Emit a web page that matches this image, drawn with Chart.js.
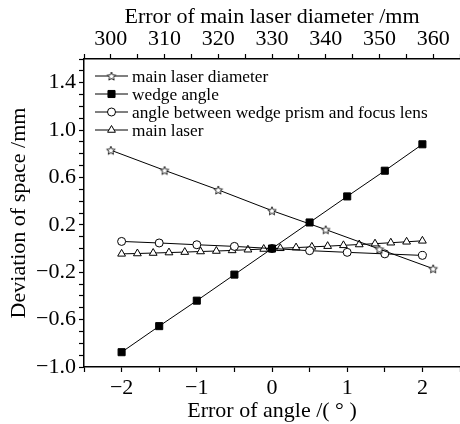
<!DOCTYPE html>
<html lang="en">
<head>
<meta charset="UTF-8" />
<title>Deviation of space</title>
<script src="https://cdn.jsdelivr.net/npm/chart.js"></script>
<style>
  html, body { margin: 0; padding: 0; background: #fff; }
</style>
</head>
<body>
<canvas id="chart" width="460" height="424"></canvas>
<script>
  // main laser diameter, plotted on the top axis (mm)
  const diameterX = [300, 310, 320, 330, 340, 350, 360];
  const diameterY = [0.83, 0.66, 0.495, 0.32, 0.16, -0.005, -0.17];
  // error of angle, bottom axis (degrees)
  const angleX = [-2, -1.5, -1, -0.5, 0, 0.5, 1, 1.5, 2];
  const wedgeY = [-0.875, -0.655, -0.44, -0.22, 0, 0.22, 0.44, 0.657, 0.88];
  const prismLensY = [0.06, 0.047, 0.032, 0.018, 0, -0.018, -0.032, -0.045, -0.058];
  const laserX = [-2, -1.79, -1.58, -1.37, -1.16, -0.95, -0.74, -0.53, -0.32, -0.11,
                  0.11, 0.32, 0.53, 0.74, 0.95, 1.16, 1.37, 1.58, 1.79, 2];
  const laserY = [-0.045, -0.042, -0.038, -0.034, -0.03, -0.025, -0.021, -0.016, -0.01, -0.004,
                  0.002, 0.008, 0.014, 0.02, 0.027, 0.034, 0.041, 0.049, 0.057, 0.065];
  const seriesNames = ['main laser diameter', 'wedge angle',
                       'angle between wedge prism and focus lens', 'main laser'];

  const serif = 'Liberation Serif';
  const minus = s => String(s).replace('-', '\u2212');

  // open five-point star marker
  function makeStar(r) {
    const c = document.createElement('canvas');
    const s = Math.ceil(r * 2 + 3);
    c.width = c.height = s;
    const g = c.getContext('2d');
    g.translate(s / 2, s / 2 + 0.5);
    g.beginPath();
    for (let i = 0; i < 10; i++) {
      const rad = i % 2 ? r * 0.45 : r;
      const a = -Math.PI / 2 + i * Math.PI / 5;
      g.lineTo(rad * Math.cos(a), rad * Math.sin(a));
    }
    g.closePath();
    g.fillStyle = '#fff';
    g.fill();
    g.strokeStyle = '#222';
    g.lineWidth = 1;
    g.stroke();
    return c;
  }
  const star = makeStar(4.5);

  const pts = (xs, ys) => xs.map((x, i) => ({ x, y: ys[i] }));
  const marker = [
    { pointStyle: star, radius: 5, bg: '#fff' },
    { pointStyle: 'rect', radius: 5, bg: '#000' },
    { pointStyle: 'circle', radius: 4, bg: '#fff' },
    { pointStyle: 'triangle', radius: 4.5, bg: '#fff' }
  ];

  function ds(i, data, axis) {
    return {
      label: seriesNames[i], data, xAxisID: axis,
      showLine: true, borderColor: '#000', borderWidth: 1, tension: 0,
      pointStyle: marker[i].pointStyle, pointRadius: marker[i].radius,
      pointBackgroundColor: marker[i].bg, pointBorderColor: '#000', pointBorderWidth: 1
    };
  }

  // legend drawn inside the plot, line-marker-line like the original
  const insideLegend = {
    id: 'insideLegend',
    afterDraw(chart) {
      const ctx = chart.ctx;
      const rows = [76, 94, 112, 130];
      ctx.save();
      seriesNames.forEach((name, i) => {
        const y = rows[i];
        ctx.strokeStyle = '#000';
        ctx.lineWidth = 1;
        ctx.beginPath();
        ctx.moveTo(95, y);
        ctx.lineTo(128, y);
        ctx.stroke();
        ctx.fillStyle = marker[i].bg;
        Chart.helpers.drawPoint(ctx, {
          pointStyle: marker[i].pointStyle, radius: marker[i].radius,
          rotation: 0, borderWidth: 1
        }, 111.5, y);
        ctx.fillStyle = '#000';
        ctx.font = '17.3px "' + serif + '"';
        ctx.textBaseline = 'middle';
        ctx.fillText(name, 132, y + 1);
      });
      ctx.restore();
    }
  };

  const axisGrid = { drawOnChartArea: false, tickLength: 5, color: '#000', tickWidth: 1.2 };
  const axisBorder = { color: '#000', width: 1.5 };
  const tickFont = { family: serif, size: 22 };
  const noPad = s => { s.paddingLeft = 0; s.paddingRight = 0; s.paddingTop = 0; s.paddingBottom = 0; };

  new Chart(document.getElementById('chart'), {
    type: 'scatter',
    data: {
      datasets: [
        ds(0, pts(diameterX, diameterY), 'xTop'),
        ds(1, pts(angleX, wedgeY), 'x'),
        ds(2, pts(angleX, prismLensY), 'x'),
        ds(3, pts(laserX, laserY), 'x')
      ]
    },
    options: {
      responsive: false,
      animation: false,
      layout: { padding: 0, autoPadding: false },
      plugins: { legend: { display: false }, tooltip: { enabled: false } },
      scales: {
        x: {
          type: 'linear', position: 'bottom', min: -2.5, max: 2.5,
          ticks: {
            stepSize: 0.5, autoSkip: false, maxRotation: 0, color: '#000', font: tickFont, padding: 3,
            callback: v => Number.isInteger(v) ? minus(v) : ''
          },
          grid: axisGrid, border: axisBorder,
          title: { display: true, text: 'Error of angle /( \u00b0 )', color: '#000',
                   font: { family: serif, size: 22 }, padding: { top: 0, bottom: 0 } },
          afterFit: s => { s.height = 57; noPad(s); }
        },
        xTop: {
          type: 'linear', position: 'top', min: 295, max: 365,
          ticks: {
            stepSize: 5, autoSkip: false, maxRotation: 0, color: '#000', font: tickFont, padding: 2,
            callback: v => v % 10 === 0 ? String(v) : ''
          },
          grid: axisGrid, border: axisBorder,
          title: { display: true, text: 'Error of main laser diameter /mm', color: '#000',
                   font: { family: serif, size: 22 }, padding: { top: 4, bottom: 0 } },
          afterFit: s => { s.height = 59; noPad(s); }
        },
        y: {
          min: -1.0, max: 1.6,
          ticks: {
            stepSize: 0.1, autoSkip: false, color: '#000', font: tickFont, padding: 3,
            callback: v => Math.round((v + 1) * 10) % 4 === 0 ? minus(v.toFixed(1)) : ''
          },
          grid: axisGrid, border: axisBorder,
          title: { display: true, text: 'Deviation of space /mm', color: '#000',
                   font: { family: serif, size: 22 }, padding: { top: 6, bottom: 0 } },
          afterFit: s => { s.width = 84; noPad(s); }
        }
      }
    },
    plugins: [insideLegend]
  });
</script>
</body>
</html>
